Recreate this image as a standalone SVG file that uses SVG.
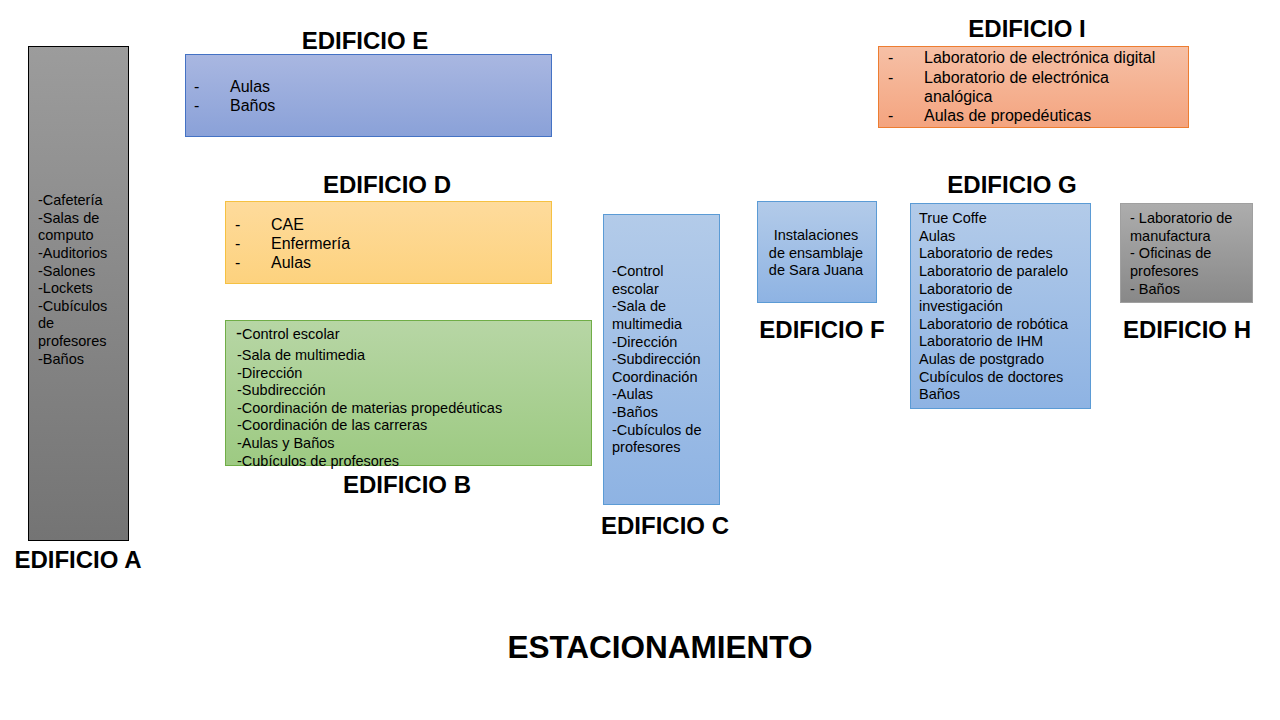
<svg xmlns="http://www.w3.org/2000/svg" width="1280" height="720" viewBox="0 0 1280 720">
<defs>
<linearGradient id="gA" x1="0" y1="0" x2="0" y2="1"><stop offset="0" stop-color="#9c9c9c"/><stop offset="1" stop-color="#747474"/></linearGradient>
<linearGradient id="gE" x1="0" y1="0" x2="0" y2="1"><stop offset="0" stop-color="#a9b7e1"/><stop offset="1" stop-color="#8aa1d8"/></linearGradient>
<linearGradient id="gD" x1="0" y1="0" x2="0" y2="1"><stop offset="0" stop-color="#fedb9c"/><stop offset="1" stop-color="#fdd27e"/></linearGradient>
<linearGradient id="gB" x1="0" y1="0" x2="0" y2="1"><stop offset="0" stop-color="#b7d6a5"/><stop offset="1" stop-color="#9dca82"/></linearGradient>
<linearGradient id="gC" x1="0" y1="0" x2="0" y2="1"><stop offset="0" stop-color="#b3cbe9"/><stop offset="1" stop-color="#8eb3e3"/></linearGradient>
<linearGradient id="gI" x1="0" y1="0" x2="0" y2="1"><stop offset="0" stop-color="#f6c0a6"/><stop offset="1" stop-color="#f4a47f"/></linearGradient>
<linearGradient id="gH" x1="0" y1="0" x2="0" y2="1"><stop offset="0" stop-color="#adadad"/><stop offset="1" stop-color="#888888"/></linearGradient>
</defs>
<style>
text { font-family: "Liberation Sans", Arial, sans-serif; fill: #000; }
.title { font-size: 24px; font-weight: bold; text-anchor: middle; }
.big { font-size: 31.5px; font-weight: bold; text-anchor: middle; }
.t { font-size: 14.5px; }
.m { font-size: 16px; }
.c { text-anchor: middle; }
</style>
<rect width="1280" height="720" fill="#ffffff"/>

<g id="edificio-a">
<rect x="28.5" y="46.5" width="100" height="494" fill="url(#gA)" stroke="#000" stroke-width="1"/>
<text class="t" x="38" y="205">-Cafetería</text>
<text class="t" x="38" y="223">-Salas de</text>
<text class="t" x="38" y="240">computo</text>
<text class="t" x="38" y="258">-Auditorios</text>
<text class="t" x="38" y="276">-Salones</text>
<text class="t" x="38" y="293">-Lockets</text>
<text class="t" x="38" y="311">-Cubículos</text>
<text class="t" x="38" y="328">de</text>
<text class="t" x="38" y="346">profesores</text>
<text class="t" x="38" y="364">-Baños</text>
<text class="title" x="78" y="568">EDIFICIO A</text>
</g>

<g id="edificio-e">
<text class="title" x="365" y="49">EDIFICIO E</text>
<rect x="185.5" y="54.5" width="366" height="82" fill="url(#gE)" stroke="#4472c4" stroke-width="1"/>
<text class="m" x="194" y="92">-</text><text class="m" x="230" y="92">Aulas</text>
<text class="m" x="194" y="111">-</text><text class="m" x="230" y="111">Baños</text>
</g>

<g id="edificio-d">
<text class="title" x="387" y="193">EDIFICIO D</text>
<rect x="225.5" y="201.5" width="326" height="82" fill="url(#gD)" stroke="#f5c142" stroke-width="1"/>
<text class="m" x="235" y="230">-</text><text class="m" x="271" y="230">CAE</text>
<text class="m" x="235" y="249">-</text><text class="m" x="271" y="249">Enfermería</text>
<text class="m" x="235" y="268">-</text><text class="m" x="271" y="268">Aulas</text>
</g>

<g id="edificio-b">
<rect x="225.5" y="320.5" width="366" height="145" fill="url(#gB)" stroke="#70ad47" stroke-width="1"/>
<text class="t" x="236" y="339"><tspan font-size="18px">-</tspan>Control escolar</text>
<text class="t" x="237" y="360">-Sala de multimedia</text>
<text class="t" x="237" y="378">-Dirección</text>
<text class="t" x="237" y="395">-Subdirección</text>
<text class="t" x="237" y="413">-Coordinación de materias propedéuticas</text>
<text class="t" x="237" y="430">-Coordinación de las carreras</text>
<text class="t" x="237" y="448">-Aulas y Baños</text>
<text class="t" x="237" y="466">-Cubículos de profesores</text>
<text class="title" x="407" y="493">EDIFICIO B</text>
</g>

<g id="edificio-c">
<rect x="603.5" y="214.5" width="116" height="290" fill="url(#gC)" stroke="#5b9bd5" stroke-width="1"/>
<text class="t" x="612" y="276">-Control</text>
<text class="t" x="612" y="294">escolar</text>
<text class="t" x="612" y="311">-Sala de</text>
<text class="t" x="612" y="329">multimedia</text>
<text class="t" x="612" y="347">-Dirección</text>
<text class="t" x="612" y="364">-Subdirección</text>
<text class="t" x="612" y="382">Coordinación</text>
<text class="t" x="612" y="399">-Aulas</text>
<text class="t" x="612" y="417">-Baños</text>
<text class="t" x="612" y="435">-Cubículos de</text>
<text class="t" x="612" y="452">profesores</text>
<text class="title" x="665" y="534">EDIFICIO C</text>
</g>

<g id="edificio-f">
<rect x="757.5" y="201.5" width="119" height="101" fill="url(#gC)" stroke="#5b9bd5" stroke-width="1"/>
<text class="t c" x="816" y="240">Instalaciones</text>
<text class="t c" x="816" y="258">de ensamblaje</text>
<text class="t c" x="816" y="275">de Sara Juana</text>
<text class="title" x="822" y="338">EDIFICIO F</text>
</g>

<g id="edificio-g">
<text class="title" x="1012" y="193">EDIFICIO G</text>
<rect x="910.5" y="203.5" width="180" height="205" fill="url(#gC)" stroke="#5b9bd5" stroke-width="1"/>
<text class="t" x="919" y="223">True Coffe</text>
<text class="t" x="919" y="241">Aulas</text>
<text class="t" x="919" y="258">Laboratorio de redes</text>
<text class="t" x="919" y="276">Laboratorio de paralelo</text>
<text class="t" x="919" y="294">Laboratorio de</text>
<text class="t" x="919" y="311">investigación</text>
<text class="t" x="919" y="329">Laboratorio de robótica</text>
<text class="t" x="919" y="346">Laboratorio de IHM</text>
<text class="t" x="919" y="364">Aulas de postgrado</text>
<text class="t" x="919" y="382">Cubículos de doctores</text>
<text class="t" x="919" y="399">Baños</text>
</g>

<g id="edificio-h">
<rect x="1120.5" y="203.5" width="132" height="99" fill="url(#gH)" stroke="#a0a0a0" stroke-width="1"/>
<text class="t" x="1130" y="223">- Laboratorio de</text>
<text class="t" x="1130" y="241">manufactura</text>
<text class="t" x="1130" y="258">- Oficinas de</text>
<text class="t" x="1130" y="276">profesores</text>
<text class="t" x="1130" y="294">- Baños</text>
<text class="title" x="1187" y="338">EDIFICIO H</text>
</g>

<g id="edificio-i">
<text class="title" x="1027" y="37">EDIFICIO I</text>
<rect x="878.5" y="46.5" width="310" height="81" fill="url(#gI)" stroke="#ed7d31" stroke-width="1"/>
<text class="m" x="888" y="63">-</text><text class="m" x="924" y="63">Laboratorio de electrónica  digital</text>
<text class="m" x="888" y="83">-</text><text class="m" x="924" y="83">Laboratorio de electrónica</text>
<text class="m" x="924" y="102">analógica</text>
<text class="m" x="888" y="121">-</text><text class="m" x="924" y="121">Aulas de propedéuticas</text>
</g>

<g id="estacionamiento">
<text class="big" x="660" y="658">ESTACIONAMIENTO</text>
</g>

<g id="connectors"></g>
</svg>
